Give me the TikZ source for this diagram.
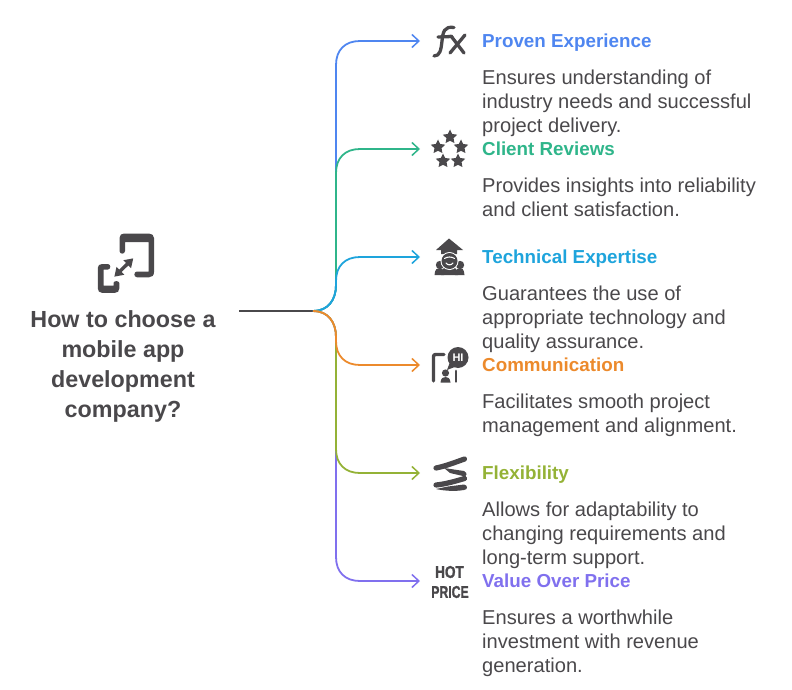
\documentclass[tikz,border=0pt]{standalone}
\usepackage{fontspec}
\setmainfont{Liberation Sans}
\newfontfamily\hotfont[FakeBold=1.6]{Liberation Sans Bold}
\usetikzlibrary{arrows.meta,shapes.geometric}
\definecolor{ink}{HTML}{4A484B}
\definecolor{cblue}{HTML}{4F86F0}
\definecolor{cgreen}{HTML}{2FB58A}
\definecolor{ccyan}{HTML}{1EA4DC}
\definecolor{corange}{HTML}{EC8A2C}
\definecolor{colive}{HTML}{94B236}
\definecolor{cpurple}{HTML}{8070EE}
\tikzset{
  link/.style={line width=1.8pt,-{Straight Barb[length=7pt,width=13pt,line width=1.5pt]}},
  trunk/.style={line width=2pt,draw=ink},
  heading/.style={anchor=base west,inner sep=0pt,font=\fontsize{18.8}{24}\selectfont\bfseries},
  body/.style={anchor=north west,inner sep=0pt,align=left,text=ink,font=\fontsize{20.1}{24}\selectfont},
  roottext/.style={anchor=north,inner sep=0pt,align=center,text=ink,font=\fontsize{23.3}{30}\selectfont\bfseries},
  glyph/.style={draw=ink,line cap=round,line join=round,line width=3.3pt},
  starmark/.style={star,star points=5,star point ratio=2.0,fill=ink,draw=none,inner sep=0pt,minimum size=15pt},
  hot/.style={inner sep=0pt,text=ink,font=\fontsize{17}{17}\hotfont}
}
\begin{document}
\begin{tikzpicture}[x=1pt,y=-1pt]
\useasboundingbox (0,0) rectangle (792,690);
% root
\node[roottext] (root) at (123,310.5) {How to choose a\\mobile app\\development\\company?};
\coordinate (tstart) at (239,311);
\coordinate (hub) at (313,311);
\coordinate (a1) at (420,41);
\coordinate (a2) at (420,149);
\coordinate (a3) at (420,257);
\coordinate (a4) at (420,365);
\coordinate (a5) at (420,473);
\coordinate (a6) at (420,581);
\draw[trunk] (tstart) -- (hub);
% upper connectors
\draw[link,cblue] (hub) .. controls (328,311) and (336,300) .. (336,285) -- (336,65) .. controls (336,50) and (345,41) .. (360,41) -- (a1);
\draw[link,cgreen] (hub) .. controls (328,311) and (336,300) .. (336,285) -- (336,173) .. controls (336,158) and (345,149) .. (360,149) -- (a2);
\draw[link,ccyan] (hub) .. controls (328,311) and (336,300) .. (336,285) -- (336,281) .. controls (336,266) and (345,257) .. (360,257) -- (a3);
% lower connectors
\draw[link,cpurple] (hub) .. controls (328,311) and (336,322) .. (336,337) -- (336,557) .. controls (336,572) and (345,581) .. (360,581) -- (a6);
\draw[link,colive] (hub) .. controls (328,311) and (336,322) .. (336,337) -- (336,449) .. controls (336,464) and (345,473) .. (360,473) -- (a5);
\draw[link,corange] (hub) .. controls (328,311) and (336,322) .. (336,337) -- (336,341) .. controls (336,356) and (345,365) .. (360,365) -- (a4);
% headings
\node[heading,text=cblue] (h1) at (482,47.7) {Proven Experience};
\node[heading,text=cgreen] (h2) at (482,155.7) {Client Reviews};
\node[heading,text=ccyan] (h3) at (482,263.7) {Technical Expertise};
\node[heading,text=corange] (h4) at (482,371.7) {Communication};
\node[heading,text=colive] (h5) at (482,479.7) {Flexibility};
\node[heading,text=cpurple] (h6) at (482,587.7) {Value Over Price};
% bodies
\node[body] (b1) at (482,69.6) {Ensures understanding of\\industry needs and successful\\project delivery.};
\node[body] (b2) at (482,177.6) {Provides insights into reliability\\and client satisfaction.};
\node[body] (b3) at (482,285.6) {Guarantees the use of\\appropriate technology and\\quality assurance.};
\node[body] (b4) at (482,393.6) {Facilitates smooth project\\management and alignment.};
\node[body] (b5) at (482,501.6) {Allows for adaptability to\\changing requirements and\\long-term support.};
\node[body] (b6) at (482,609.6) {Ensures a worthwhile\\investment with revenue\\generation.};
% root icon
\fill[ink,line join=round] (119.5,251) -- (119.5,238) .. controls (119.5,235) and (121.5,233.5) .. (124,233.5) -- (149,233.5) .. controls (152,233.5) and (154,235.5) .. (154,238) -- (154,272) .. controls (154,275.5) and (152,277.3) .. (149,277.3) -- (137,277.3) .. controls (133.5,277.3) and (133.5,271.5) .. (137,271.5) -- (148.5,271.5) -- (148.5,242) -- (125,242) -- (125,251) .. controls (125,254.5) and (119.5,254.5) .. (119.5,251) -- cycle;
\fill[ink] (108,264) .. controls (111,264) and (111,269.5) .. (108,269.5) -- (103.5,269.5) -- (103.5,285.5) -- (113.5,285.5) -- (113.5,283) .. controls (113.5,280.5) and (119.3,280.5) .. (119.3,283) -- (119.3,288.5) .. controls (119.3,291.5) and (117.5,292.8) .. (115,292.8) -- (102,292.8) .. controls (99.5,292.8) and (97.8,291) .. (97.8,288.5) -- (97.8,268) .. controls (97.8,265.5) and (99.5,264) .. (102,264) -- cycle;
\draw[ink,line width=3.4pt,{Stealth[length=8.5pt,width=10.5pt,inset=0pt]}-{Stealth[length=8.5pt,width=10.5pt,inset=0pt]}] (114.3,276.7) -- (133.3,258.3);
% fx
\draw[glyph] (454,27.5) .. controls (444,26) and (443,32) .. (442,41) .. controls (441,50) and (440,56) .. (434,56);
\draw[glyph] (438,37) -- (452,36.5);
\draw[glyph] (451,36) -- (464,53);
\draw[glyph] (465,35) -- (450,53);
% stars
\node[starmark] (s1) at (450,137) {};
\node[starmark] (s2) at (438,147) {};
\node[starmark] (s3) at (461,147) {};
\node[starmark] (s4) at (443,161) {};
\node[starmark] (s5) at (458,161) {};
% cap + people
\fill[ink] (449,238.5) -- (463,250) -- (457,250) -- (457,254) -- (441,254) -- (441,250) -- (436,250) -- cycle;
\fill[ink] (440,265) circle (4.2);
\fill[ink] (460,265) circle (4.2);
\fill[ink] (434.5,275) .. controls (435,269) and (437,268) .. (440,268) .. controls (443,268) and (444,270) .. (444,275) -- cycle;
\fill[ink] (464.5,275) .. controls (464,269) and (462,268) .. (460,268) .. controls (457,268) and (455,270) .. (455,275) -- cycle;
\fill[ink] (441,275) .. controls (442,268) and (445,266) .. (449.5,266) .. controls (454,266) and (457,268) .. (458,275) -- cycle;
\fill[white] (449.5,261) circle (9);
\fill[ink] (449.5,261) circle (8);
\draw[white,line width=1.1pt,line cap=round] (444.5,258.5) .. controls (447,256.5) and (452,256.5) .. (454.5,258.5);
\draw[white,line width=1.1pt,line cap=round] (446,263) .. controls (448,265.5) and (451,265.5) .. (453,263);
% speech icon
\draw[ink,line width=3.4pt,line cap=round,line join=round,rounded corners=2pt] (433.5,381) -- (433.5,354.5) -- (444,354.5);
\fill[ink] (445.5,373) circle (3.6);
\fill[ink] (440.5,382.5) .. controls (441,378) and (443,377) .. (445.5,377) .. controls (448,377) and (450,378) .. (450.5,382.5) -- cycle;
\draw[ink,line width=2.8pt,line cap=round] (456,371) -- (456,381.5);
\fill[ink] (458,357.5) circle (10.5);
\fill[ink] (450,362) -- (447,370) -- (456,366.5) -- cycle;
\node[inner sep=0pt,text=white,font=\fontsize{11}{11}\selectfont\bfseries] (hi) at (458,357.5) {HI};
% flexibility
\draw[ink,line width=5.2pt,line cap=round] (436,468) .. controls (446,466) and (456,462) .. (464.5,459);
\fill[ink] (444,468) -- (464,471) .. controls (468,473) and (467,477) .. (463,476) -- (450,473) -- cycle;
\draw[ink,line width=5.2pt,line cap=round] (436,485) .. controls (446,484) and (456,481) .. (464.5,478.5);
\fill[ink] (448,486.5) -- (464,484.5) .. controls (468,485) and (468,490) .. (464,490) .. controls (455,491.5) and (445,491) .. (436,489) -- cycle;
% hot price
\node[hot,xscale=.8] (hott) at (449.5,572) {HOT};
\node[hot,xscale=.72] (price) at (450,592) {PRICE};
\end{tikzpicture}
\end{document}
